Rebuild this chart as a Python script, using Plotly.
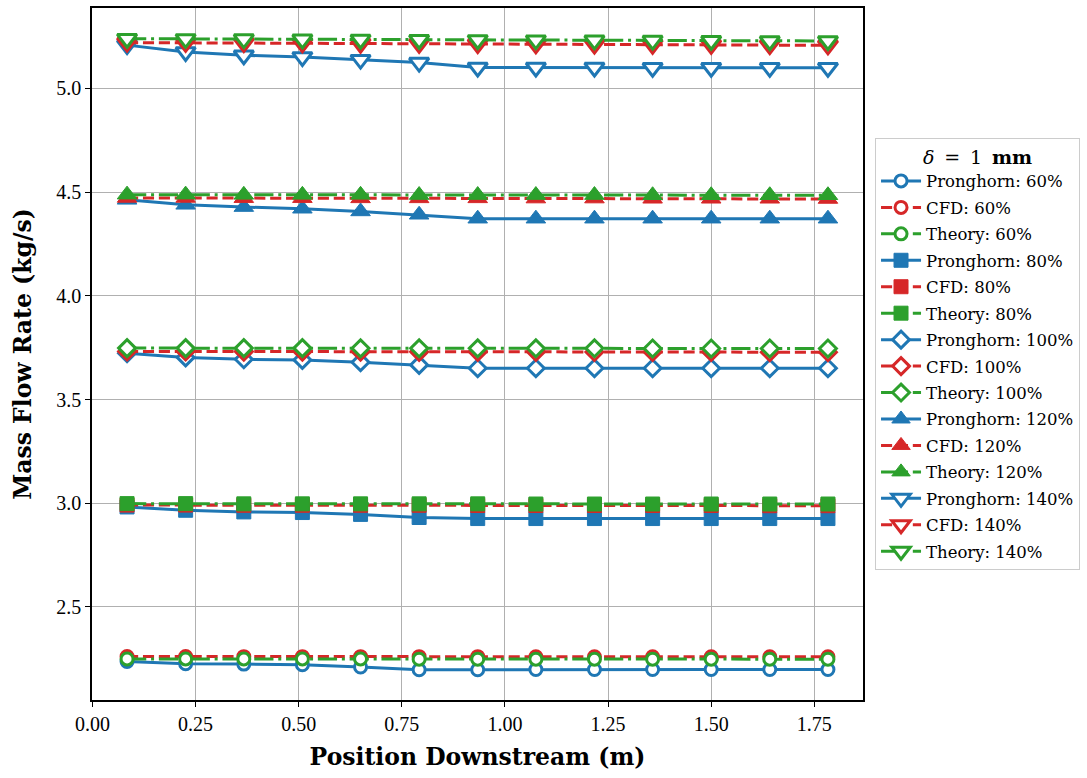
import plotly.graph_objects as go

# Axial positions of the sampled stations (m)
position = [0.084, 0.226, 0.367, 0.509, 0.650, 0.792, 0.934,
            1.075, 1.217, 1.358, 1.500, 1.642, 1.783]

# Mass flow rate (kg/s) for each inlet condition
pronghorn_60 = [2.237, 2.226, 2.224, 2.221, 2.210, 2.197, 2.197,
                2.198, 2.198, 2.198, 2.198, 2.198, 2.198]
cfd_60 = [2.261, 2.261, 2.260, 2.260, 2.260, 2.260, 2.260,
          2.259, 2.259, 2.259, 2.259, 2.259, 2.259]
theory_60 = [2.249, 2.249, 2.249, 2.249, 2.249, 2.248, 2.248,
             2.248, 2.248, 2.248, 2.248, 2.248, 2.248]

pronghorn_80 = [2.982, 2.966, 2.958, 2.955, 2.946, 2.931, 2.926,
                2.926, 2.926, 2.926, 2.926, 2.926, 2.926]
cfd_80 = [2.991, 2.991, 2.990, 2.990, 2.990, 2.990, 2.989,
          2.989, 2.989, 2.989, 2.989, 2.988, 2.988]
theory_80 = [2.998, 2.998, 2.997, 2.997, 2.997, 2.997, 2.997,
             2.996, 2.996, 2.996, 2.996, 2.996, 2.996]

pronghorn_100 = [3.723, 3.703, 3.694, 3.691, 3.680, 3.667, 3.651,
                 3.651, 3.651, 3.651, 3.651, 3.651, 3.651]
cfd_100 = [3.732, 3.732, 3.731, 3.731, 3.731, 3.730, 3.730,
           3.730, 3.729, 3.729, 3.729, 3.728, 3.728]
theory_100 = [3.748, 3.748, 3.748, 3.748, 3.747, 3.747, 3.747,
              3.747, 3.747, 3.746, 3.746, 3.746, 3.746]

pronghorn_120 = [4.463, 4.439, 4.428, 4.420, 4.407, 4.391, 4.372,
                 4.372, 4.372, 4.372, 4.372, 4.372, 4.372]
cfd_120 = [4.472, 4.472, 4.471, 4.471, 4.470, 4.470, 4.470,
           4.469, 4.469, 4.468, 4.468, 4.468, 4.467]
theory_120 = [4.488, 4.488, 4.487, 4.487, 4.487, 4.486, 4.486,
              4.486, 4.486, 4.485, 4.485, 4.485, 4.485]

pronghorn_140 = [5.209, 5.176, 5.160, 5.152, 5.139, 5.125, 5.101,
                 5.101, 5.101, 5.100, 5.100, 5.100, 5.100]
cfd_140 = [5.221, 5.220, 5.219, 5.218, 5.216, 5.215, 5.214,
           5.213, 5.212, 5.211, 5.210, 5.209, 5.208]
theory_140 = [5.240, 5.239, 5.238, 5.237, 5.236, 5.235, 5.234,
              5.233, 5.232, 5.231, 5.230, 5.229, 5.229]

percent_labels = ["60%", "80%", "100%", "120%", "140%"]
x_ticks = [0.0, 0.25, 0.5, 0.75, 1.0, 1.25, 1.5, 1.75]
y_ticks = [2.5, 3.0, 3.5, 4.0, 4.5, 5.0]

series = [
    (pronghorn_60, cfd_60, theory_60),
    (pronghorn_80, cfd_80, theory_80),
    (pronghorn_100, cfd_100, theory_100),
    (pronghorn_120, cfd_120, theory_120),
    (pronghorn_140, cfd_140, theory_140),
]

BLUE, RED, GREEN = "#1f77b4", "#d62728", "#2ca02c"
LW = 3
FONT = "Liberation Serif"
WIDE_FONT = "DejaVu Serif"

# (symbol, size, hollow?) per inlet condition
markers = [
    ("circle", 12, True),
    ("square", 14, False),
    ("diamond", 13, True),
    ("triangle-up", 17, False),
    ("triangle-down", 17, True),
]

models = [
    ("Pronghorn", BLUE, "solid"),
    ("CFD", RED, f"{3.7*LW:.1f}px,{1.6*LW:.1f}px"),
    ("Theory", GREEN, f"{6.4*LW:.1f}px,{1.6*LW:.1f}px,{1.0*LW:.1f}px,{1.6*LW:.1f}px"),
]

fig = go.Figure()
for pct, group, (sym, size, hollow) in zip(percent_labels, series, markers):
    for (model, color, dash), values in zip(models, group):
        name = f"{model}: {pct}"
        fig.add_trace(go.Scatter(
            x=position, y=values, name=name, legendgroup=name,
            mode="lines+markers",
            line=dict(color=color, width=LW, dash=dash),
            marker=dict(
                symbol=sym, size=size,
                color="white" if hollow else color,
                line=dict(color=color, width=3 if hollow else 1),
            ),
        ))

axis_common = dict(
    showline=True, linecolor="black", linewidth=1.5, mirror=True,
    ticks="outside", ticklen=5, tickwidth=1.3, tickcolor="black",
    showgrid=True, gridcolor="#b0b0b0", gridwidth=1,
    zeroline=False,
    tickfont=dict(family=FONT, size=20, color="black"),
)

fig.update_xaxes(
    **axis_common,
    range=[-0.001, 1.868],
    tickvals=x_ticks, tickformat=".2f",
    title=dict(text="<b>Position Downstream (m)</b>",
               font=dict(family=WIDE_FONT, size=23.5, color="black"), standoff=15),
)
fig.update_yaxes(
    **axis_common,
    range=[2.051, 5.388],
    tickvals=y_ticks, tickformat=".1f",
    title=dict(text="<b>Mass Flow Rate (kg/s)</b>",
               font=dict(family=WIDE_FONT, size=23.5, color="black"), standoff=18),
)

fig.update_layout(
    width=1087, height=778,
    margin=dict(l=92, r=224, t=6, b=78),
    paper_bgcolor="white", plot_bgcolor="white",
    font=dict(family=FONT, color="black"),
    legend=dict(
        x=1.0156, xanchor="left", y=0.5, yanchor="middle",
        bgcolor="white", bordercolor="#cccccc", borderwidth=1,
        font=dict(family=WIDE_FONT, size=16.5, color="black"),
        title=dict(text="<i>δ</i>\u2009 = \u20091 \u2009<b>mm</b>", side="top center",
                   font=dict(family=WIDE_FONT, size=19, color="black")),
        itemwidth=40, tracegroupgap=2,
    ),
)

fig.write_html("out.html")
